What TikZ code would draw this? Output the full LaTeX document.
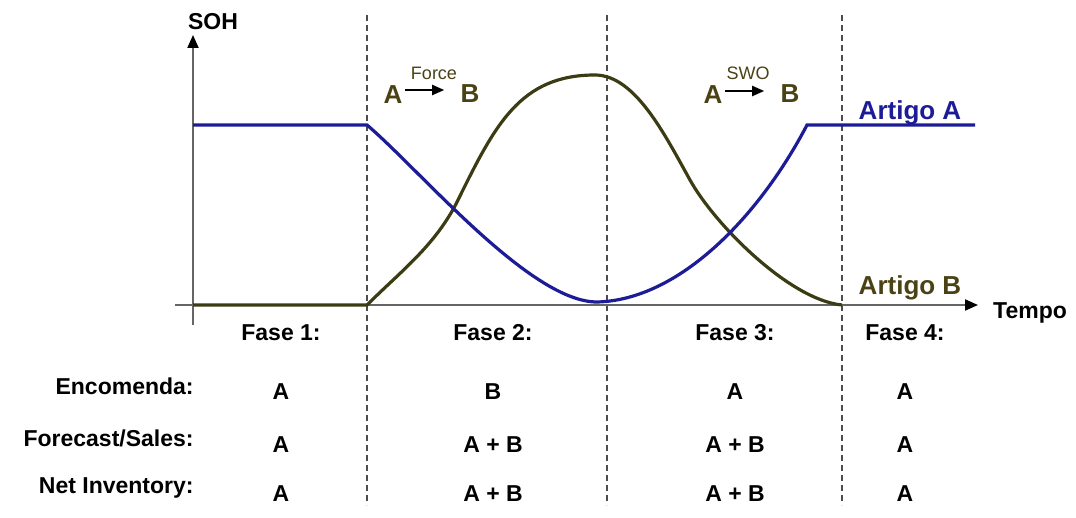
\documentclass[tikz,border=0pt]{standalone}
\usepackage{fontspec}
\setmainfont{Liberation Sans}
\usetikzlibrary{arrows.meta,positioning}
\definecolor{artA}{HTML}{1C1C96}
\definecolor{artB}{HTML}{3C3C14}
\definecolor{artBtxt}{HTML}{4A4214}
\tikzset{
  lbl/.style={font=\bfseries\fontsize{11.5}{13}\selectfont,inner sep=1pt},
  rowlbl/.style={lbl,anchor=east},
  curvelbl/.style={font=\bfseries\fontsize{13}{15}\selectfont,inner sep=1pt},
  swaplbl/.style={font=\bfseries\fontsize{13}{15}\selectfont,inner sep=1pt,text=artBtxt},
  swaptag/.style={font=\fontsize{9}{10}\selectfont,inner sep=1pt,text=artBtxt},
  swaparrow/.style={draw=black,line width=1pt,-{Triangle[length=6pt,width=5pt]}},
  phase/.style={draw=black!70,line width=0.9pt,dash pattern=on 3pt off 2pt},
  axis/.style={draw=black!60,line width=1pt,-{Triangle[length=6.5pt,width=5.5pt,color=black]}},
  curve/.style={line width=1.6pt}
}
\begin{document}
\begin{tikzpicture}[x=0.5pt,y=-0.5pt]
  \useasboundingbox (0,0) rectangle (1076,518);
  % phase borders
  \foreach \px in {367,607,842}
    \draw[phase] (\px,15) -- (\px,505);
  % axes
  \coordinate (ybot) at (193,325);
  \coordinate (ytop) at (193,35);
  \coordinate (xbeg) at (175,305);
  \coordinate (xend) at (978,305);
  \draw[axis] (ybot) -- (ytop);
  \draw[axis] (xbeg) -- (xend);
  \node[lbl] (soh) at (213,22) {SOH};
  \node[lbl] (tempo) at (1030,313) {Tempo};
  % curves
  \draw[curve,artB] (193,305) -- (367,305)
    .. controls (400,272) and (436,245) .. (458,200)
    .. controls (495,125) and (520,75) .. (595,75)
    .. controls (635,75) and (665,135) .. (690,180)
    .. controls (715,225) and (790,300) .. (842,305);
  \draw[curve,artA] (193,125) -- (367,125)
    .. controls (420,170) and (530,302) .. (597,302)
    .. controls (680,300) and (760,215) .. (807,125) -- (975,125);
  \node[curvelbl,text=artA] (artigoA) at (910,113) {Artigo A};
  \node[curvelbl,text=artBtxt] (artigoB) at (910,288) {Artigo B};
  % substitutions
  \node[swaplbl] (fa) at (393,95) {A};
  \node[swaplbl] (fb) at (470,94) {B};
  \node[swaptag] (force) at (434,73) {Force};
  \draw[swaparrow] ([yshift=2.5pt]fa.east) -- ([xshift=-7pt,yshift=2pt]fb.west);
  \node[swaplbl] (sa) at (713,95) {A};
  \node[swaplbl] (sb) at (790,94) {B};
  \node[swaptag] (swo) at (748,73) {SWO};
  \draw[swaparrow] ([yshift=2pt]sa.east) -- ([xshift=-7pt,yshift=1.5pt]sb.west);
  % table
  \foreach \cx/\txt [count=\i] in {281/Fase 1:,493/Fase 2:,735/Fase 3:,905/Fase 4:}
    \node[lbl] (fase\i) at (\cx,333) {\txt};
  \node[rowlbl] (enc) at (196,386) {Encomenda:};
  \node[rowlbl] (fcst) at (196,438) {Forecast/Sales:};
  \node[rowlbl] (inv) at (196,488) {Net Inventory:};
  \foreach \cx/\txt [count=\i] in {281/A,493/B,735/A,905/A}
    \node[lbl] (enc\i) at (\cx,392) {\txt};
  \foreach \cx/\txt [count=\i] in {281/A,493/A + B,735/A + B,905/A}
    \node[lbl] (fcst\i) at (\cx,445) {\txt};
  \foreach \cx/\txt [count=\i] in {281/A,493/A + B,735/A + B,905/A}
    \node[lbl] (inv\i) at (\cx,494) {\txt};
\end{tikzpicture}
\end{document}
